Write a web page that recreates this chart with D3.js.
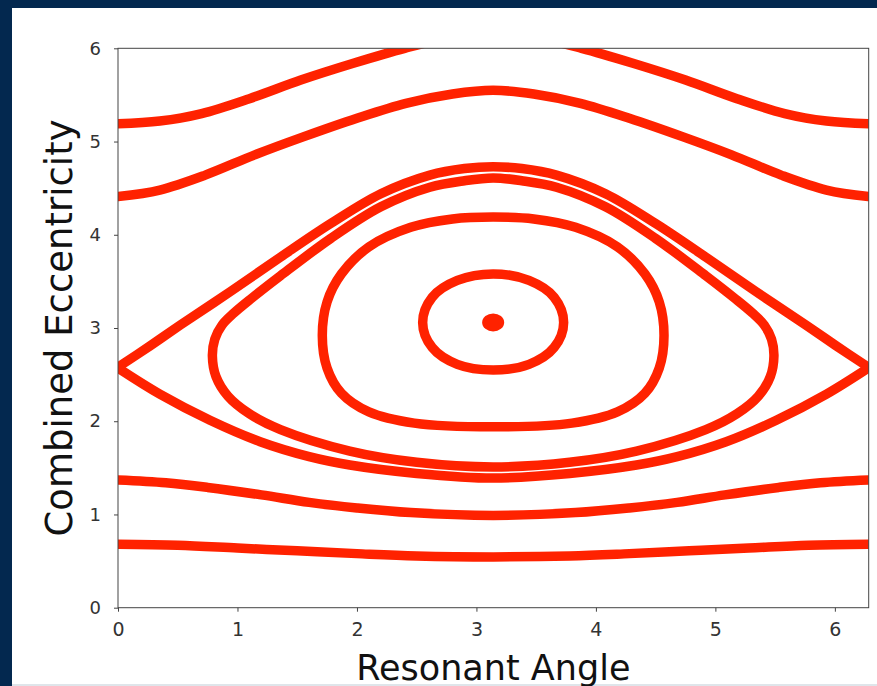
<!DOCTYPE html>
<html>
<head>
<meta charset="utf-8">
<script src="https://cdn.jsdelivr.net/npm/d3@7"></script>
<style>
  body{margin:0;background:#03284f;}
  svg{display:block;}
</style>
</head>
<body>
<script>
// data: [angle, eccentricity]
var topOrbit=[[0,5.19],[0.35,5.22],[0.70,5.30],[1.10,5.46],[1.53,5.66],[1.97,5.84],[2.40,6.00],[2.80,6.12],[3.14,6.16],[3.48,6.12],[3.88,6.00],[4.31,5.84],[4.75,5.66],[5.18,5.46],[5.58,5.30],[5.93,5.22],[6.28,5.19]]
var upperOrbit=[[0,4.41],[0.35,4.48],[0.73,4.64],[1.15,4.86],[1.55,5.05],[2.00,5.25],[2.41,5.41],[2.80,5.51],[3.14,5.55],[3.48,5.51],[3.87,5.41],[4.28,5.25],[4.73,5.05],[5.13,4.86],[5.55,4.64],[5.93,4.48],[6.28,4.41]]
var sepUpper=[[0,2.58],[0.27,2.81],[0.52,3.03],[0.94,3.39],[1.36,3.76],[1.78,4.12],[2.20,4.44],[2.61,4.64],[2.90,4.71],[3.14,4.73],[3.38,4.71],[3.67,4.64],[4.08,4.44],[4.50,4.12],[4.92,3.76],[5.34,3.39],[5.76,3.03],[6.01,2.81],[6.28,2.58]]
var sepLower=[[0,2.57],[0.35,2.29],[0.77,2.01],[1.19,1.78],[1.60,1.62],[1.94,1.53],[2.50,1.44],[3.14,1.39],[3.78,1.44],[4.34,1.53],[4.68,1.62],[5.09,1.78],[5.51,2.01],[5.93,2.29],[6.28,2.57]]
var loop4=[[0.79,2.70],[0.81,2.88],[0.87,3.03],[0.97,3.16],[1.12,3.32],[1.36,3.56],[1.78,3.96],[2.20,4.30],[2.61,4.51],[2.90,4.58],[3.14,4.61],[3.38,4.58],[3.67,4.51],[4.08,4.30],[4.50,3.96],[4.92,3.56],[5.16,3.32],[5.31,3.16],[5.41,3.03],[5.47,2.88],[5.49,2.70],[5.46,2.48],[5.36,2.27],[5.18,2.08],[4.92,1.91],[4.34,1.68],[3.78,1.56],[3.14,1.51],[2.50,1.56],[1.94,1.68],[1.36,1.91],[1.10,2.08],[0.92,2.27],[0.82,2.48]]
var loop3=[[1.71,2.92],[1.75,3.28],[1.87,3.58],[2.10,3.87],[2.45,4.08],[2.80,4.17],[3.14,4.19],[3.48,4.17],[3.83,4.08],[4.18,3.87],[4.41,3.58],[4.53,3.28],[4.57,2.92],[4.53,2.57],[4.41,2.30],[4.18,2.10],[3.80,1.98],[3.14,1.94],[2.48,1.98],[2.10,2.10],[1.87,2.30],[1.75,2.57]]
var loop2=[[2.55,3.06],[2.63,3.33],[2.84,3.51],[3.14,3.58],[3.44,3.51],[3.65,3.33],[3.73,3.06],[3.65,2.79],[3.44,2.61],[3.14,2.55],[2.84,2.61],[2.63,2.79]]
var centerPoint=[3.14,3.06]
var lowOrbit=[[0,1.37],[0.40,1.34],[0.75,1.29],[1.20,1.21],[1.60,1.13],[2.00,1.07],[2.45,1.02],[3.14,0.99],[3.83,1.02],[4.28,1.07],[4.68,1.13],[5.08,1.21],[5.53,1.29],[5.88,1.34],[6.28,1.37]]
var bottomOrbit=[[0,0.68],[0.50,0.67],[1.00,0.64],[1.50,0.61],[2.00,0.58],[2.50,0.555],[3.14,0.545],[3.78,0.555],[4.28,0.58],[4.78,0.61],[5.28,0.64],[5.78,0.67],[6.28,0.68]]

var xTicks=[0,1,2,3,4,5,6]
var yTicks=[0,1,2,3,4,5,6]

var screen={width:877,height:686}
var plotBox={left:118,right:868.7,top:48.3,bottom:607.7}
var red="#ff2200"

var svg=d3.select("body").append("svg")
  .attr("width",screen.width)
  .attr("height",screen.height)

// frame
svg.append("rect").attr("width",screen.width).attr("height",screen.height).attr("fill","#03284f")
svg.append("rect").attr("x",12).attr("y",8).attr("width",865).attr("height",676).attr("fill","#ffffff")
svg.append("rect").attr("x",12).attr("y",684).attr("width",865).attr("height",2).attr("fill","#dfe5ea")

//scale
var xScale=d3.scaleLinear().domain([0,2*Math.PI]).range([plotBox.left,plotBox.right])
var yScale=d3.scaleLinear().domain([0,6]).range([plotBox.bottom,plotBox.top])

svg.append("clipPath").attr("id","plotclip")
  .append("rect")
  .attr("x",plotBox.left).attr("y",plotBox.top)
  .attr("width",plotBox.right-plotBox.left).attr("height",plotBox.bottom-plotBox.top)

var plot=svg.append("g").attr("clip-path","url(#plotclip)")

var openLine=d3.line()
  .x(function(d){return xScale(d[0])})
  .y(function(d){return yScale(d[1])})
  .curve(d3.curveCatmullRom)
var closedLine=d3.line()
  .x(function(d){return xScale(d[0])})
  .y(function(d){return yScale(d[1])})
  .curve(d3.curveCatmullRomClosed)

var openCurves=[topOrbit,upperOrbit,sepUpper,sepLower,lowOrbit,bottomOrbit]
var closedCurves=[loop4,loop3,loop2]

plot.selectAll("path.open")
  .data(openCurves)
  .enter()
  .append("path")
  .attr("class","open")
  .attr("d",openLine)
  .attr("fill","none")
  .attr("stroke",red)
  .attr("stroke-width",9.5)
  .attr("stroke-linecap","round")

plot.selectAll("path.closed")
  .data(closedCurves)
  .enter()
  .append("path")
  .attr("class","closed")
  .attr("d",closedLine)
  .attr("fill","none")
  .attr("stroke",red)
  .attr("stroke-width",9.5)

plot.append("ellipse")
  .attr("cx",xScale(centerPoint[0]))
  .attr("cy",yScale(centerPoint[1]))
  .attr("rx",11).attr("ry",9)
  .attr("fill",red)

// axis
var xAxis=d3.axisBottom(xScale).tickValues(xTicks).tickFormat(d3.format("d")).tickSize(4).tickPadding(11)
var yAxis=d3.axisLeft(yScale).tickValues(yTicks).tickFormat(d3.format("d")).tickSize(4).tickPadding(13)

var gx=svg.append("g")
  .attr("transform","translate(0,"+plotBox.bottom+")")
  .call(xAxis)
var gy=svg.append("g")
  .attr("transform","translate("+plotBox.left+",0)")
  .call(yAxis)

;[gx,gy].forEach(function(g){
  g.select(".domain").remove()
  g.selectAll(".tick line").attr("stroke","#444")
  g.selectAll(".tick text").attr("fill","#333").style("font-family","DejaVu Sans")
})
gx.selectAll(".tick text").style("font-size","19px")
gy.selectAll(".tick text").style("font-size","18px")

svg.append("rect")
  .attr("x",plotBox.left).attr("y",plotBox.top)
  .attr("width",plotBox.right-plotBox.left).attr("height",plotBox.bottom-plotBox.top)
  .attr("fill","none")
  .attr("stroke","#444")
  .attr("stroke-width",1)

svg.append("text")
  .attr("x",(plotBox.left+plotBox.right)/2)
  .attr("y",680)
  .attr("text-anchor","middle")
  .style("font-family","DejaVu Sans")
  .style("font-size","35px")
  .attr("fill","#111")
  .text("Resonant Angle")

svg.append("text")
  .attr("transform","translate(72,"+((plotBox.top+plotBox.bottom)/2)+") rotate(-90)")
  .attr("text-anchor","middle")
  .style("font-family","DejaVu Sans")
  .style("font-size","37px")
  .attr("fill","#111")
  .text("Combined Eccentricity")
</script>
</body>
</html>
